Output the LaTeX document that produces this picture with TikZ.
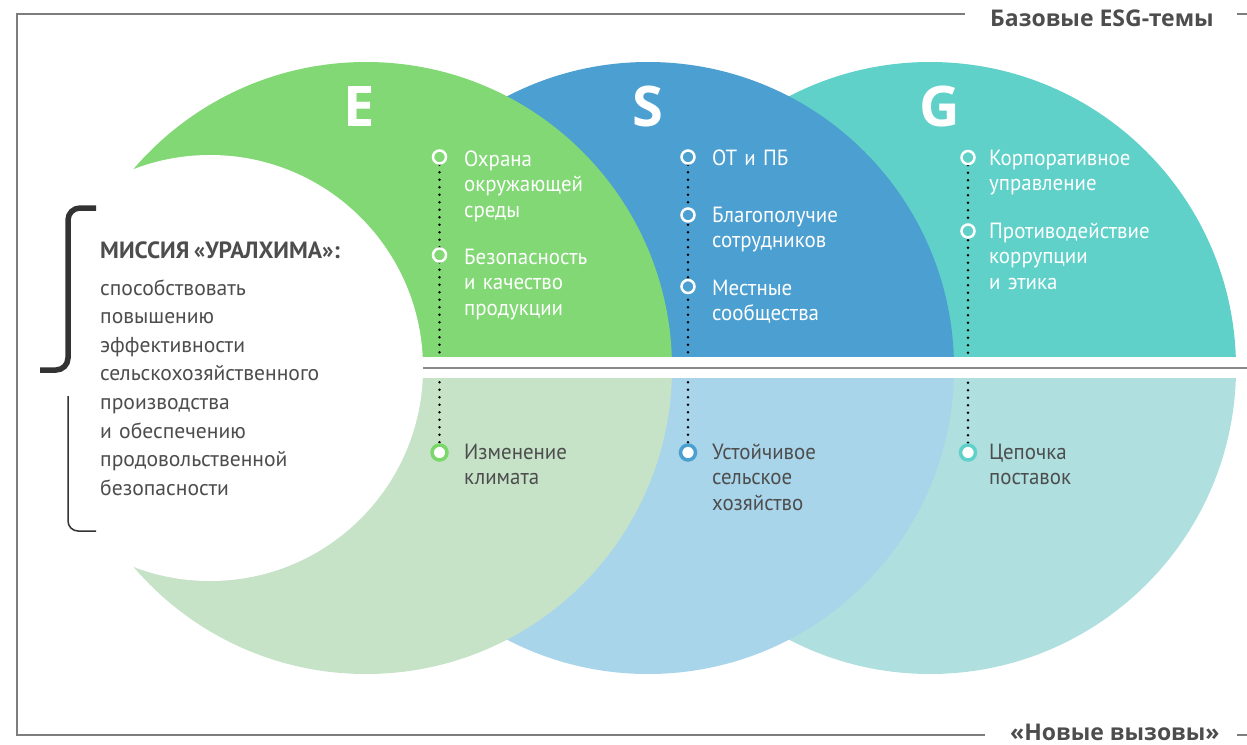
\documentclass[tikz,border=0pt]{standalone}
\usepackage{fontspec}
\newfontfamily\bodyf[FakeStretch=0.95,WordSpace=0.6]{PT Sans}
\newfontfamily\missf[WordSpace=0.75]{PT Sans}
\newfontfamily\headf{Open Sans}
\definecolor{Etop}{RGB}{129,216,116}
\definecolor{Stop}{RGB}{75,159,209}
\definecolor{Gtop}{RGB}{95,209,201}
\definecolor{Ebot}{RGB}{198,227,200}
\definecolor{Sbot}{RGB}{169,213,234}
\definecolor{Gbot}{RGB}{175,223,223}
\definecolor{Ering}{RGB}{122,216,106}
\definecolor{txt}{RGB}{77,77,77}
\definecolor{framec}{RGB}{125,125,125}
\definecolor{divc}{RGB}{138,138,138}
\definecolor{brk}{RGB}{51,51,51}
\pgfdeclarelayer{back}
\pgfdeclarelayer{dots}
\pgfdeclarelayer{band}
\pgfsetlayers{back,dots,band,main}
\begin{document}
\begin{tikzpicture}[x=1pt,y=-1pt,
  toplab/.style={anchor=base west, inner sep=0pt, text width=220pt, align=left, text=white, font=\bodyf\fontsize{22}{25.5}\selectfont},
  botlab/.style={toplab, text=txt},
  ring/.style={circle, draw=white, line width=2.5pt, minimum size=13pt, inner sep=0pt},
  botring/.style={circle, fill=white, line width=3.5pt, minimum size=15pt, inner sep=0pt},
  dotline/.style={draw=black, line width=2.6pt, line cap=round, dash pattern=on 0pt off 7.5pt},
  letter/.style={text=white, font=\headf\bfseries\fontsize{56}{56}\selectfont, inner sep=0pt},
  heading/.style={text=txt, font=\headf\bfseries\fontsize{23}{23}\selectfont, inner sep=0pt, anchor=base west},
  frameline/.style={draw=framec, line width=1.8pt},
]
\useasboundingbox (0,0) rectangle (1247,744);

% circles
\begin{pgfonlayer}{back}
\foreach \nm/\cx in {G/930,S/648,E/366}{
  \begin{scope}
    \clip (0,0) rectangle (1247,357);
    \fill[\nm top] (\cx,368) circle[radius=306pt];
  \end{scope}
  \begin{scope}
    \clip (0,378) rectangle (1247,744);
    \fill[\nm bot] (\cx,368) circle[radius=306pt];
  \end{scope}
}
\fill[white] (210,368) circle[radius=213pt];
\end{pgfonlayer}

% white band and divider
\begin{pgfonlayer}{band}
\fill[white] (300,357) rectangle (1247,378);
\draw[draw=divc, line width=2.5pt] (423,368) -- (1247,368);
\end{pgfonlayer}

% frame
\draw[frameline] (965,14) -- (17,14) -- (17,735) -- (985,735);
\draw[frameline] (1237,14) -- (1247,14);
\draw[frameline] (1237,735) -- (1247,735);
\node[heading] (h1) at (990,27) {Базовые ESG-темы};
\node[heading] (h2) at (1010,740) {«Новые вызовы»};

% letters
\node[letter] (E) at (359.5,107) {E};
\node[letter] (S) at (647.5,106) {S};
\node[letter] (G) at (939.5,106.5) {G};

% bullets
\node[ring, fill=Etop] (e1) at (439.5,157) {};
\node[ring, fill=Etop] (e2) at (439.5,255) {};
\node[botring, draw=Ering] (e3) at (439.5,452.5) {};
\node[ring, fill=Stop] (s1) at (688,157) {};
\node[ring, fill=Stop] (s2) at (688,215) {};
\node[ring, fill=Stop] (s3) at (688,286.5) {};
\node[botring, draw=Stop] (s4) at (688,452.5) {};
\node[ring, fill=Gtop] (g1) at (968,157.5) {};
\node[ring, fill=Gtop] (g2) at (968,231) {};
\node[botring, draw=Gtop] (g3) at (968,452.5) {};

\begin{pgfonlayer}{dots}
\draw[dotline] (e1.south) -- (e3.north);
\draw[dotline] (s1.south) -- (s4.north);
\draw[dotline] (g1.south) -- (g3.north);
\end{pgfonlayer}

% labels
\node[toplab] (le1) at (464,166) {Охрана\\окружающей\\среды};
\node[toplab] (le2) at (464,264) {Безопасность\\и~качество\\продукции};
\node[botlab] (le3) at (464,459) {Изменение\\климата};
\node[toplab] (ls1) at (712,165) {ОТ и ПБ};
\node[toplab] (ls2) at (712,222) {Благополучие\\сотрудников};
\node[toplab] (ls3) at (712,295) {Местные\\сообщества};
\node[botlab] (ls4) at (712,459) {Устойчивое\\сельское\\хозяйство};
\node[toplab] (lg1) at (989,165) {Корпоративное\\управление};
\node[toplab] (lg2) at (989,238) {Противодействие\\коррупции\\и~этика};
\node[botlab] (lg3) at (989,459) {Цепочка\\поставок};

% mission
\node[anchor=base west, inner sep=0pt, text=txt, font=\missf\bfseries\fontsize{23.5}{23.5}\selectfont] (mh) at (100,258) {МИССИЯ «УРАЛХИМА»:};
\node[anchor=base west, inner sep=0pt, text width=280pt, align=left, text=txt, font=\missf\fontsize{21.6}{28.6}\selectfont] (mb) at (100,295)
 {способствовать\\повышению\\эффективности\\сельскохозяйственного\\производства\\и~обеспечению\\продовольственной\\безопасности};

% bracket
\coordinate (b1) at (96,208);
\coordinate (b2) at (40,370);
\draw[draw=brk, line width=5.5pt, rounded corners=12pt] (b1) -- (68,208) -- (68,370) -- (b2);
\coordinate (b3) at (68,396);
\coordinate (b4) at (96,531);
\draw[draw=brk, line width=1.5pt, rounded corners=10pt] (b3) -- (68,531) -- (b4);
\end{tikzpicture}
\end{document}
